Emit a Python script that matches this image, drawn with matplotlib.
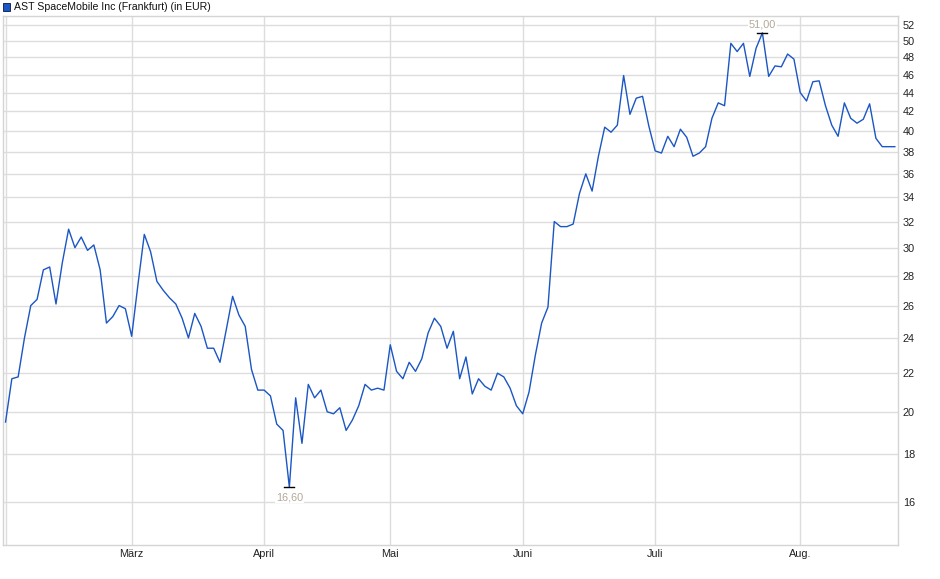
import matplotlib
matplotlib.use("Agg")
import matplotlib.pyplot as plt
from matplotlib.patches import Rectangle
from matplotlib.ticker import FixedLocator, NullLocator, FixedFormatter

plt.rcParams['font.family'] = ['Liberation Sans', 'DejaVu Sans']

title = "AST SpaceMobile Inc (Frankfurt) (in EUR)"

# daily closing prices (trading-day index 0 = start of Feb)
prices = [
    19.5, 21.7, 21.8, 24.0, 26.0, 26.4, 28.4, 28.6, 26.1, 28.9,
    31.4, 30.0, 30.8, 29.8, 30.2, 28.4, 24.9, 25.3, 26.0, 25.8,
    24.1, 27.4, 31.0, 29.7, 27.6, 27.0, 26.5, 26.1, 25.2, 24.0,
    25.5, 24.7, 23.4, 23.4, 22.6, 24.5, 26.6, 25.4, 24.7, 22.2,
    21.1, 21.1, 20.8, 19.4, 19.1, 16.6, 20.7, 18.5, 21.4, 20.7,
    21.1, 20.0, 19.9, 20.2, 19.1, 19.6, 20.3, 21.4, 21.1, 21.2,
    21.1, 23.6, 22.1, 21.7, 22.6, 22.1, 22.8, 24.3, 25.2, 24.7,
    23.4, 24.4, 21.7, 22.9, 20.9, 21.7, 21.3, 21.1, 22.0, 21.8,
    21.2, 20.3, 19.9, 21.0, 23.0, 24.9, 25.9, 32.0, 31.6, 31.6,
    31.8, 34.3, 36.0, 34.5, 37.6, 40.4, 39.9, 40.6, 45.9, 41.7,
    43.4, 43.6, 40.5, 38.1, 37.9, 39.5, 38.5, 40.2, 39.4, 37.6,
    37.9, 38.5, 41.3, 42.9, 42.6, 49.7, 48.7, 49.7, 45.8, 49.1,
    51.0, 45.8, 47.0, 46.9, 48.4, 47.8, 44.0, 43.1, 45.2, 45.3,
    42.6, 40.6, 39.5, 42.9, 41.3, 40.8, 41.2, 42.8, 39.3, 38.5,
    38.5, 38.5,
]
month_idx = [0, 20, 41, 61, 82, 103, 126]
month_labels = ["", "März", "April", "Mai", "Juni", "Juli", "Aug."]
y_ticks = [16, 18, 20, 22, 24, 26, 28, 30, 32, 34, 36, 38, 40, 42, 44, 46, 48, 50, 52]

W, H = 940, 579
fig = plt.figure(figsize=(W / 100, H / 100), dpi=100)
L, R, T, B = 2.7, 898.5, 16, 545.3
ax = fig.add_axes([L / W, 1 - B / H, (R - L) / W, (B - T) / H])

x = list(range(len(prices)))
line_color = "#1a56c4"
ax.plot(x, prices, color=line_color, lw=1.0, zorder=3)

ax.set_yscale("log")
ax.set_ylim(14.38, 53.17)
ax.set_xlim(-0.45, 141.58)

ax.yaxis.set_major_locator(FixedLocator(y_ticks))
ax.yaxis.set_major_formatter(FixedFormatter([str(v) for v in y_ticks]))
ax.yaxis.set_minor_locator(NullLocator())
ax.set_xticks(month_idx)
ax.set_xticklabels(month_labels)

ax.yaxis.tick_right()
ax.tick_params(axis="y", length=0, pad=3, labelsize=7.8, colors="#222222")
ax.tick_params(axis="x", length=0, pad=3, labelsize=7.8, colors="#222222")

ax.grid(True, color="#dddddd", lw=1.0, zorder=0)
for s in ax.spines.values():
    s.set_color("#d4d4d4")
    s.set_linewidth(1.0)

# min / max markers
imax = max(range(len(prices)), key=lambda i: prices[i])
imin = min(range(len(prices)), key=lambda i: prices[i])
lab_color = "#b2a898"
for i, off in [(imax, 6.0), (imin, -7.2)]:
    ax.plot([i - 0.8, i + 0.8], [prices[i], prices[i]], color="black", lw=1.0, zorder=4)
    ax.annotate(f"{prices[i]:.2f}".replace(".", ","), (i, prices[i]),
                xytext=(0, off), textcoords="offset points", ha="center", va="center",
                fontsize=7.8, color=lab_color, zorder=5,
                bbox=dict(boxstyle="square,pad=0.1", fc="white", ec="none"))

# legend / title
fig.patches.append(Rectangle((3 / W, 1 - 10.5 / H), 7 / W, 7.5 / H, transform=fig.transFigure,
                             facecolor="#1a56c4", edgecolor="#1a2a60", lw=0.7))
fig.text(14 / W, 1 - 6.5 / H, title, fontsize=7.6, va="center", ha="left", color="#111111")

fig.savefig("out.png", dpi=100, facecolor="white")
